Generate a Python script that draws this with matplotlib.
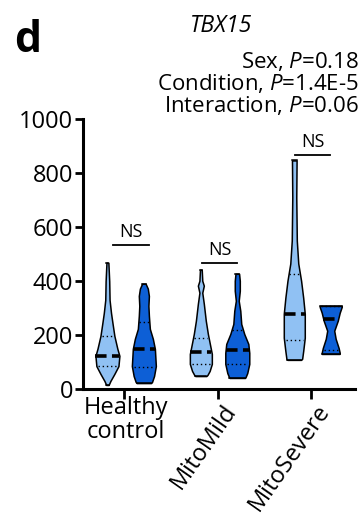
import numpy as np
import matplotlib.pyplot as plt

plt.rcParams['font.family'] = ['Open Sans', 'DejaVu Sans']
plt.rcParams['mathtext.fontset'] = 'custom'
plt.rcParams['mathtext.it'] = 'Open Sans:italic'
plt.rcParams['mathtext.rm'] = 'Open Sans'

groups = ['Healthy\ncontrol', 'MitoMild', 'MitoSevere']
sexes = ['female', 'male']

# violin outlines: value levels and half-width (relative)
profiles = {
    (0, 'female'): ([15, 30, 56, 85, 123, 149, 197, 245, 282, 330, 400, 468],
                    [0.1, 0.25, 0.58, 0.92, 1.0, 0.83, 0.58, 0.42, 0.3, 0.18, 0.15, 0.08]),
    (0, 'male'): ([22, 26, 48, 85, 149, 186, 223, 271, 308, 345, 372, 390],
                  [0.6, 0.68, 0.85, 1.0, 0.92, 0.75, 0.5, 0.42, 0.38, 0.42, 0.33, 0.15]),
    (1, 'female'): ([48, 52, 67, 93, 130, 167, 204, 253, 316, 357, 383, 401, 442],
                    [0.5, 0.6, 0.8, 1.0, 1.0, 0.82, 0.64, 0.45, 0.27, 0.13, 0.27, 0.13, 0.08]),
    (1, 'male'): ([41, 45, 59, 93, 134, 167, 204, 241, 290, 327, 364, 401, 427],
                  [0.65, 0.7, 0.83, 1.0, 1.0, 0.92, 0.58, 0.33, 0.25, 0.12, 0.21, 0.21, 0.15]),
    (2, 'female'): ([108, 112, 141, 190, 279, 338, 401, 465, 550, 710, 847],
                    [0.65, 0.75, 0.85, 1.0, 1.0, 0.85, 0.65, 0.38, 0.24, 0.19, 0.22]),
    (2, 'male'): ([130, 134, 152, 186, 216, 253, 283, 304, 308],
                  [0.8, 0.82, 0.72, 0.45, 0.32, 0.64, 0.82, 1.0, 1.0]),
}
max_width = {
    (0, 'female'): 12, (0, 'male'): 12,
    (1, 'female'): 11, (1, 'male'): 12,
    (2, 'female'): 10.5, (2, 'male'): 11,
}
medians = {(0, 'female'): 123, (0, 'male'): 149, (1, 'female'): 137, (1, 'male'): 143,
           (2, 'female'): 279, (2, 'male'): 258}
quartiles = {(0, 'female'): (85, 197), (0, 'male'): (82, 248), (1, 'female'): (93, 190),
             (1, 'male'): (93, 218), (2, 'female'): (182, 427), (2, 'male'): (145, 306)}

ns_y = [532, 468, 868]
ns_span = [(-0.12, 0.27), (-0.17, 0.21), (-0.17, 0.20)]

colors = {'female': '#90C1F3', 'male': '#0D5FD6'}
offsets = {'female': -0.18, 'male': 0.21}
px = 1 / 93.5

fig = plt.figure(figsize=(3.63, 5.18), dpi=100)
ax = fig.add_axes([0.229, 0.249, 0.749, 0.521])

for (g, s), (vals, w) in profiles.items():
    vals = np.array(vals, float)
    hw = np.array(w) * max_width[(g, s)] * px
    xc = g + offsets[s]
    ax.fill_betweenx(vals, xc - hw, xc + hw, facecolor=colors[s],
                     edgecolor='black', linewidth=1.1, zorder=2)
    ax.plot([xc - hw[0], xc + hw[0]], [vals[0]] * 2, color='black', lw=1.1, zorder=3)
    ax.plot([xc - hw[-1], xc + hw[-1]], [vals[-1]] * 2, color='black', lw=1.1, zorder=3)
    m = medians[(g, s)]
    wm = np.interp(m, vals, hw)
    ax.plot([xc - wm, xc + wm], [m, m], color='black', lw=2.6,
            linestyle=(0, (3.2, 1.5)), zorder=4)
    for q in quartiles[(g, s)]:
        wq = np.interp(q, vals, hw) * 0.85
        ax.plot([xc - wq, xc + wq], [q, q], color='black', lw=1.0,
                linestyle=(0, (1, 2)), zorder=4)

for g in range(3):
    x0, x1 = ns_span[g]
    ax.plot([g + x0, g + x1], [ns_y[g]] * 2, color='black', lw=1.3)
    ax.text(g + (x0 + x1) / 2, ns_y[g] + 15, 'NS', ha='center', va='bottom', fontsize=13)

ax.set_xlim(-0.44, 2.47)
ax.set_ylim(0, 1000)
ax.set_yticks([0, 200, 400, 600, 800, 1000])
ax.set_xticks([0, 1, 2])
ax.set_xticklabels([])
ax.tick_params(axis='y', labelsize=17, width=2, length=6, pad=1)
ax.tick_params(axis='x', width=2, length=7)
for side in ['top', 'right']:
    ax.spines[side].set_visible(False)
for side in ['left', 'bottom']:
    ax.spines[side].set_linewidth(2.2)

ax.text(0.02, -0.025, groups[0], transform=ax.get_xaxis_transform(), ha='center',
        va='top', fontsize=17, linespacing=1.0)
for g in (1, 2):
    ax.text(g + 0.04, -0.04, groups[g], transform=ax.get_xaxis_transform(),
            ha='right', va='top', fontsize=17, rotation=55, rotation_mode='anchor')

fig.text(0.04, 0.90, 'd', fontsize=31, fontweight='bold', ha='left', va='baseline')
fig.text(0.61, 0.938, 'TBX15', fontsize=16.5, fontstyle='italic', ha='center', va='baseline')
stats = [('Sex', '0.18'), ('Condition', '1.4E-5'), ('Interaction', '0.06')]
for i, (name, p) in enumerate(stats):
    fig.text(0.988, 0.869 - i * 0.0425, name + r', $\it{P}$=' + p, fontsize=16,
             ha='right', va='baseline')

fig.savefig('out.png', dpi=100)
